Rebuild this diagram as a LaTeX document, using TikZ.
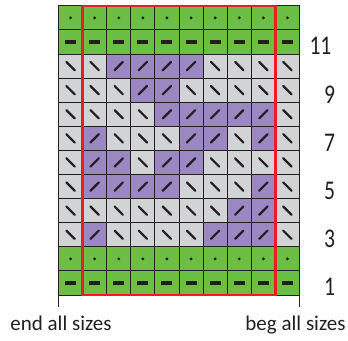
\documentclass[tikz,border=0pt]{standalone}
\usepackage{fontspec}
\setmainfont{Carlito}
\newcommand\rowno[1]{\scalebox{0.8}[1]{#1}}
\definecolor{knitgreen}{HTML}{6DBE45}
\definecolor{chartgray}{HTML}{D1D3D4}
\definecolor{lilac}{HTML}{9B88C2}
\definecolor{framered}{HTML}{ED1C24}
\definecolor{chartline}{HTML}{231F20}
\tikzset{
  cell/.style={draw=chartline, line width=1pt, minimum size=24.1pt, inner sep=0pt, outer sep=0pt},
  stitchline/.style={draw=chartline, line width=2.2pt, line cap=round},
  cellm/.style={cell, fill=knitgreen, path picture={
    \draw[stitchline, line width=3.8pt, line cap=butt] ([xshift=-5.5pt]path picture bounding box.center) -- ([xshift=5.5pt]path picture bounding box.center);}},
  cello/.style={cell, fill=knitgreen, path picture={
    \fill[chartline] (path picture bounding box.center) circle (1.6pt);}},
  cellg/.style={cell, fill=chartgray, path picture={
    \draw[stitchline] ([shift={(-4.2pt,4.2pt)}]path picture bounding box.center) -- ([shift={(4.2pt,-4.2pt)}]path picture bounding box.center);}},
  cellv/.style={cell, fill=lilac, path picture={
    \draw[stitchline] ([shift={(-4.2pt,-4.2pt)}]path picture bounding box.center) -- ([shift={(4.2pt,4.2pt)}]path picture bounding box.center);}},
  sizelbl/.style={font=\fontsize{21}{21}\selectfont, text=chartline, inner sep=0pt, anchor=base},
  rownum/.style={font=\fontsize{27}{27}\selectfont, text=chartline, inner sep=0pt, anchor=base},
}
\begin{document}
\begin{tikzpicture}[x=24.1pt, y=24.1pt]
\useasboundingbox (-2.427,-1.867) rectangle (12.012,12.241);
% chart rows, bottom to top
\foreach \rowcells [count=\r] in {
  {m,m,m,m,m,m,m,m,m,m},
  {o,o,o,o,o,o,o,o,o,o},
  {g,v,g,g,g,g,v,v,v,g},
  {g,g,g,g,g,g,g,v,v,g},
  {g,v,v,v,v,g,g,g,v,g},
  {g,v,v,g,v,v,g,g,g,g},
  {g,v,g,g,g,v,v,g,v,g},
  {g,g,g,g,v,v,v,v,v,g},
  {g,g,g,v,v,g,g,g,g,g},
  {g,g,v,v,v,v,g,g,g,g},
  {m,m,m,m,m,m,m,m,m,m},
  {o,o,o,o,o,o,o,o,o,o}} {
  \foreach \t [count=\c] in \rowcells {
    \node[cell\t] (c\r-\c) at (\c-0.5,\r-0.5) {};
  }
}
% repeat frame
\draw[framered, line width=2.5pt] (c1-2.south west) rectangle (c12-9.north east);
% size marks
\coordinate (endtick) at (0,-0.5);
\coordinate (begtick) at (10,-0.5);
\draw[chartline, line width=1pt] (c1-1.south west) -- (endtick);
\draw[chartline, line width=1pt] (c1-10.south east) -- (begtick);
\node[sizelbl] (endlbl) at (0.104,-1.452) {end all sizes};
\node[sizelbl] (beglbl) at (9.834,-1.452) {beg all sizes};
% row numbers
\node[rownum] (n11) at (10.87,9.96) {\rowno{11}};
\node[rownum] (n9) at (11.245,7.96) {\rowno{9}};
\node[rownum] (n7) at (11.245,5.96) {\rowno{7}};
\node[rownum] (n5) at (11.245,3.96) {\rowno{5}};
\node[rownum] (n3) at (11.245,1.96) {\rowno{3}};
\node[rownum] (n1) at (11.245,-0.04) {\rowno{1}};
\end{tikzpicture}
\end{document}
